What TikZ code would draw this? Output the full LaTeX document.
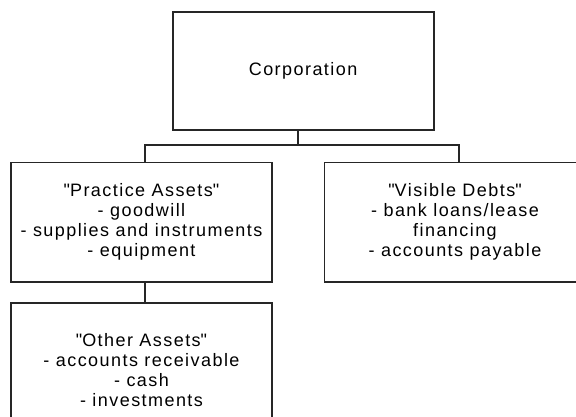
\documentclass[tikz,border=0pt]{standalone}
\usepackage{fontspec}
\setmainfont{Liberation Sans}[LetterSpace=8]
\newcommand{\qq}{\XeTeXglyph\XeTeXcharglyph"0022\relax}
\begin{document}
\begin{tikzpicture}[x=1pt,y=-1pt,
  box/.style={draw=black!85, line width=1.8pt, rectangle, inner sep=0pt,
    minimum width=261pt, align=center, text=black,
    font=\fontsize{18}{20}\selectfont},
  conn/.style={draw=black!85, line width=1.8pt}]
\useasboundingbox (0,0) rectangle (576,416);
\clip (0,0) rectangle (576,416);
\fill[white] (0,0) rectangle (576,416);
\node[box, minimum height=118.5pt] (corp) at (303.1,70.9) {Corporation};
\node[box, minimum height=119.2pt] (practice) at (141.5,222.1)
  {\qq Practice Assets\qq\\- goodwill\\- supplies and instruments\\- equipment};
\node[box, minimum height=119.2pt] (visible) at (455,222.1)
  {\qq Visible Debts\qq\\- bank loans/lease\\financing\\- accounts payable};
\node[box, minimum height=134pt] (other) at (141.5,370)
  {\qq Other Assets\qq\\- accounts receivable\\- cash\\- investments};
\coordinate (cx) at (298.3,0);
\coordinate (lx) at (145,0);
\coordinate (rx) at (459,0);
\coordinate (busy) at (0,145);
\draw[conn] (corp.south -| cx) -- (cx |- busy);
\draw[conn] (lx |- practice.north) |- (rx |- busy) -- (rx |- visible.north);
\draw[conn] (lx |- practice.south) -- (lx |- other.north);
\end{tikzpicture}
\end{document}
